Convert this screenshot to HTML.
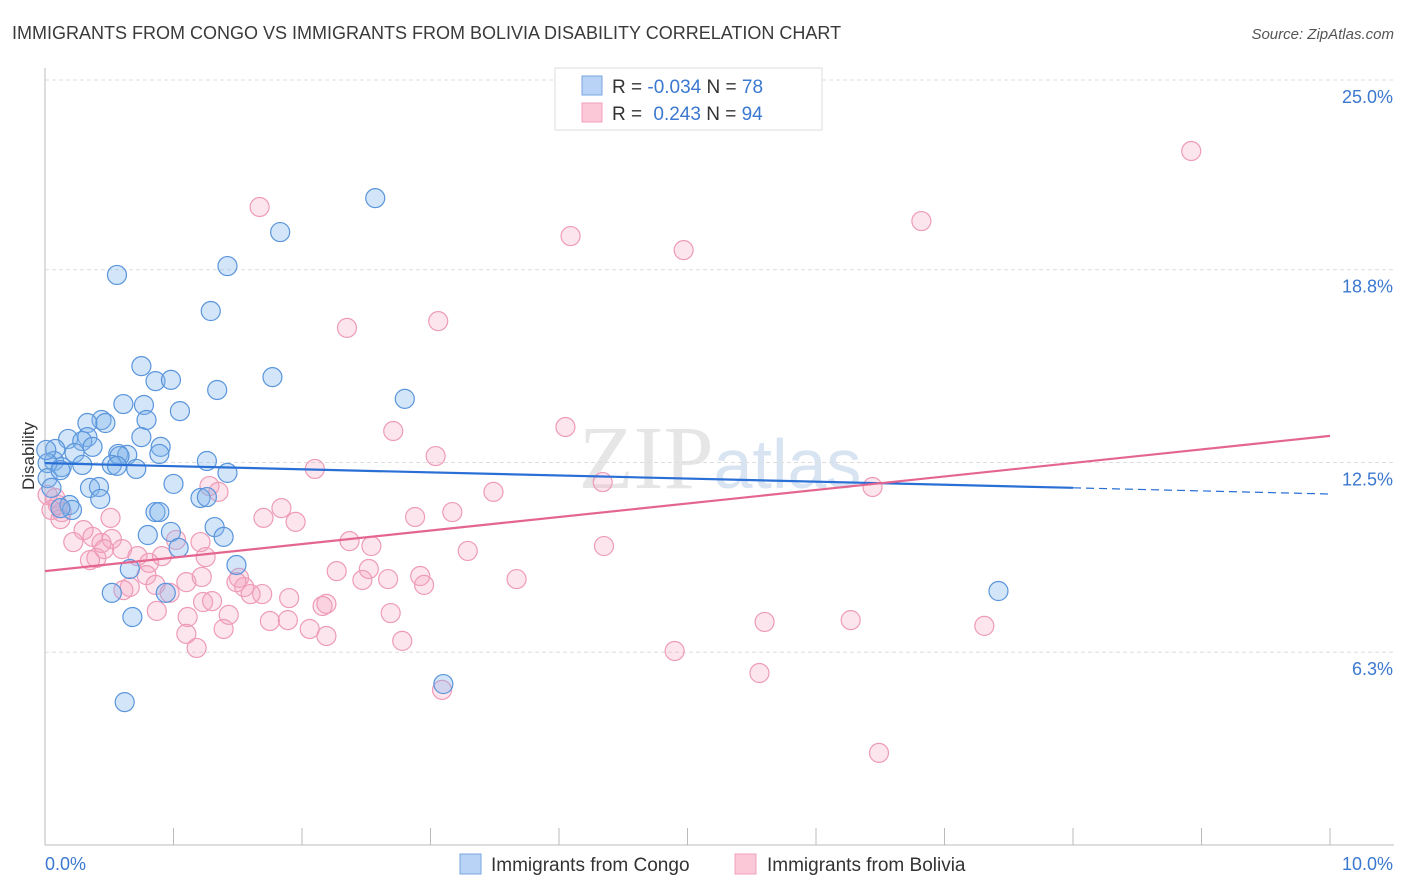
<!DOCTYPE html>
<html><head><meta charset="utf-8"><style>
body{margin:0;background:#fff;font-family:"Liberation Sans",sans-serif;}
svg{display:block}
</style></head><body>
<svg id="chart" width="1406" height="892" viewBox="0 0 1406 892" xmlns="http://www.w3.org/2000/svg">
<text x="12" y="39" font-size="18" fill="#3a3a3a">IMMIGRANTS FROM CONGO VS IMMIGRANTS FROM BOLIVIA DISABILITY CORRELATION CHART</text>
<text x="1394" y="39" font-size="15" fill="#555" font-style="italic" text-anchor="end">Source: ZipAtlas.com</text>
<text x="720" y="488" font-size="90" fill="#e6e6e6" text-anchor="middle" font-family="Liberation Serif,serif">ZIP<tspan fill="#d8e4f2" font-family="Liberation Sans,sans-serif" font-size="70">atlas</tspan></text>
<g id="grid"></g>
<g id="axes"></g>
<g id="points"></g>
<g id="trends"></g>
<text transform="translate(34,456) rotate(-90)" font-size="17" fill="#333" text-anchor="middle">Disability</text>
<text x="45" y="870" font-size="18" fill="#3b78d0">0.0%</text>
<text x="1393" y="870" font-size="18" fill="#3b78d0" text-anchor="end">10.0%</text>
<g>
<rect x="555" y="68" width="267" height="62" fill="#fff" stroke="#ddd"/>
<rect x="582" y="76" width="20" height="19" fill="#b8d3f5" stroke="#7aa7e0"/>
<rect x="582" y="103" width="20" height="19" fill="#fbc8d8" stroke="#f0a0bb"/>
<text x="612" y="93" font-size="19" fill="#333">R = <tspan fill="#3b78d0">-0.034</tspan>   N = <tspan fill="#3b78d0">78</tspan></text>
<text x="612" y="120" font-size="19" fill="#333">R =  <tspan fill="#3b78d0" dx="6">0.243</tspan>   N = <tspan fill="#3b78d0">94</tspan></text>
</g>
<g>
<rect x="460" y="854" width="21" height="20" fill="#b8d3f5" stroke="#7aa7e0"/>
<text x="491" y="871" font-size="19" fill="#333">Immigrants from Congo</text>
<rect x="735" y="854" width="21" height="20" fill="#fbc8d8" stroke="#f0a0bb"/>
<text x="767" y="871" font-size="19" fill="#333">Immigrants from Bolivia</text>
</g>
</svg>
<script>
const yTicks=[25.0,18.8,12.5,6.3];
const yTickLabels=["25.0%","18.8%","12.5%","6.3%"];
const xTicks=[0,1,2,3,4,5,6,7,8,9,10];
const congoX=[2.57,1.83,0.56,1.42,1.29,0.75,0.86,0.98,1.77,1.34,2.80,0.61,0.77,1.05,0.79,0.44,0.33,0.47,0.75,0.18,0.33,0.29,0.90,0.37,0.08,0.23,0.57,0.64,0.89,0.58,1.26,0.07,0.13,0.29,0.52,0.56,0.71,1.42,1.00,0.35,0.42,0.43,1.21,1.26,0.86,0.89,1.32,1.39,0.98,0.80,0.66,1.04,1.49,0.94,0.52,0.68,0.62,3.10,7.42,0.02,0.02,0.05,0.12,0.01,0.19,0.21,0.12];
const congoY=[21.14,20.03,18.63,18.92,17.45,15.65,15.16,15.20,15.29,14.87,14.58,14.41,14.38,14.18,13.89,13.89,13.79,13.79,13.33,13.27,13.33,13.20,13.01,13.01,12.94,12.81,12.78,12.75,12.78,12.71,12.55,12.55,12.35,12.42,12.42,12.39,12.29,12.16,11.80,11.67,11.70,11.31,11.34,11.37,10.88,10.88,10.39,10.07,10.23,10.13,9.02,9.71,9.15,8.24,8.24,7.45,4.67,5.26,8.30,12.48,11.99,11.67,12.25,12.91,11.11,10.95,11.01];
const boliviaX=[8.92,1.67,6.82,4.09,4.97,3.06,2.35,2.71,4.05,3.04,2.10,4.34,3.49,6.44,3.17,2.88,1.70,1.84,1.95,2.37,2.54,3.29,4.35,0.51,1.28,1.35,0.13,0.30,0.37,0.22,0.52,0.08,0.02,0.10,0.44,0.60,0.72,0.81,0.91,0.40,0.66,0.79,0.61,0.86,1.10,1.25,1.22,1.51,1.55,1.23,1.30,1.49,1.69,1.90,1.60,2.27,2.47,2.52,2.67,2.95,2.92,3.67,1.43,1.39,1.11,0.87,0.97,1.10,1.18,1.75,1.89,2.06,2.19,2.16,2.19,2.69,2.78,5.60,6.27,7.31,4.90,5.56,3.09,6.49,0.46,1.02,1.21,0.35,0.05,0.12];
const boliviaY=[22.68,20.85,20.39,19.90,19.44,17.12,16.90,13.53,13.66,12.71,12.29,11.86,11.54,11.70,10.88,10.72,10.69,11.01,10.56,9.93,9.77,9.61,9.77,10.69,11.73,11.54,10.88,10.29,10.07,9.90,10.00,11.34,11.44,11.11,9.87,9.67,9.44,9.22,9.44,9.38,8.43,8.82,8.33,8.50,8.59,9.41,8.76,8.73,8.43,7.94,7.97,8.59,8.20,8.07,8.20,8.95,8.66,9.02,8.69,8.50,8.79,8.69,7.52,7.06,7.45,7.65,8.24,6.90,6.44,7.32,7.35,7.06,6.83,7.81,7.88,7.58,6.67,7.29,7.35,7.16,6.34,5.62,5.07,3.01,9.67,9.97,9.90,9.31,10.95,10.65];
const congoTrend=[12.48,-0.101];
const boliviaTrend=[8.95,0.442];
const X0=45,X1=1330,Y0=845,PXY=30.6;
const xs=v=>X0+(X1-X0)*v/10;
const ys=v=>Y0-v*PXY;
const NS="http://www.w3.org/2000/svg";
function mk(tag,attrs,parent){const e=document.createElementNS(NS,tag);for(const k in attrs)e.setAttribute(k,attrs[k]);document.getElementById(parent).appendChild(e);return e;}
yTicks.forEach((t,i)=>{
 const l=mk('line',{x1:45,x2:1394,y1:ys(t),y2:ys(t),stroke:'#ddd','stroke-dasharray':'4,3'},'grid');
 
 
 const tx=mk('text',{x:1393,y:ys(t)+23,'font-size':18,fill:'#3b78d0','text-anchor':'end'},'grid');
 tx.textContent=yTickLabels[i];
 
 
});
const ax=mk('line',{x1:45,x2:1394,y1:845,y2:845,stroke:'#bbb'},'axes');


const ay=mk('line',{x1:45,x2:45,y1:68,y2:845,stroke:'#bbb'},'axes');


xTicks.forEach(t=>{
 const l=mk('line',{x1:xs(t),x2:xs(t),y1:828,y2:845,stroke:'#bbb'},'axes');
 
 
});
boliviaX.forEach((x,i)=>{
 const c=mk('circle',{cx:xs(x),cy:ys(boliviaY[i]),r:9.5,fill:'rgba(245,160,190,0.28)',stroke:'#ee9bb8','stroke-width':1.2},'points');
 
 
});
congoX.forEach((x,i)=>{
 const c=mk('circle',{cx:xs(x),cy:ys(congoY[i]),r:9.5,fill:'rgba(130,180,235,0.35)',stroke:'#5a95dc','stroke-width':1.2},'points');
 
 
});
const t1=mk('line',{x1:xs(0),y1:ys(congoTrend[0]),x2:xs(8),y2:ys(congoTrend[0]+8*congoTrend[1]),stroke:'#2a6fd6','stroke-width':2.2},'trends');


const t1d=mk('line',{x1:xs(8),y1:ys(congoTrend[0]+8*congoTrend[1]),x2:xs(10),y2:ys(congoTrend[0]+10*congoTrend[1]),stroke:'#2a6fd6','stroke-width':1.2,'stroke-dasharray':'8,5'},'trends');


const t2=mk('line',{x1:xs(0),y1:ys(boliviaTrend[0]),x2:xs(10),y2:ys(boliviaTrend[0]+10*boliviaTrend[1]),stroke:'#e4668f','stroke-width':2.2},'trends');


</script>
</body></html>
